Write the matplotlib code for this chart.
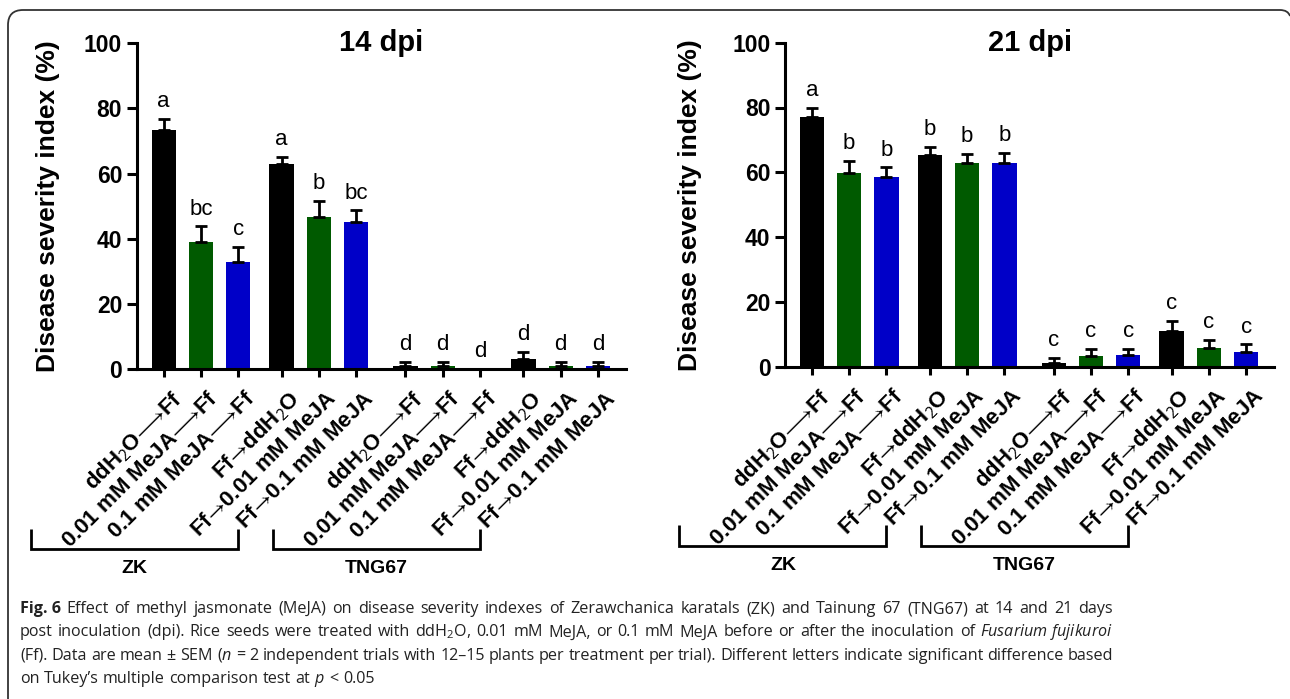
import re
import matplotlib
matplotlib.use("Agg")
import matplotlib.pyplot as plt
import matplotlib.transforms as mtransforms
from matplotlib.path import Path
from matplotlib.patches import PathPatch
import numpy as np

plt.rcParams.update({
    "font.family": ["Liberation Sans", "DejaVu Sans"],
    "mathtext.fontset": "custom",
    "mathtext.rm": "Open Sans",
    "mathtext.it": "Open Sans:italic",
    "mathtext.bf": "Open Sans:bold",
})

# ---------------- data
treatments = ["ddH$_2$O$⟶$Ff", "0.01 mM MeJA$⟶$Ff", "0.1 mM MeJA$⟶$Ff",
              "Ff$→$ddH$_2$O", "Ff$→$0.01 mM MeJA", "Ff$→$0.1 mM MeJA"]
cultivars = ["ZK", "TNG67"]
bar_colors = ["#000000", "#005a00", "#0000c8"]

dsi14 = [73.5, 39.0, 33.0, 62.8, 46.8, 45.0, 1.0, 0.8, 0.0, 3.0, 0.8, 0.8]
sem14 = [3.4, 4.8, 4.5, 2.3, 4.7, 3.7, 1.3, 1.4, 0.0, 2.2, 1.4, 1.4]
let14 = ["a", "bc", "c", "a", "b", "bc", "d", "d", "d", "d", "d", "d"]

dsi21 = [77.0, 59.7, 58.5, 65.3, 62.8, 62.9, 1.0, 3.3, 3.5, 11.0, 5.7, 4.5]
sem21 = [3.0, 3.7, 3.0, 2.5, 3.0, 3.0, 1.7, 2.1, 2.1, 3.1, 2.5, 2.4]
let21 = ["a", "b", "b", "b", "b", "b", "c", "c", "c", "c", "c", "c"]

caption_head = "Fig. 6"
caption = [
    r"Effect of methyl jasmonate (MeJA) on disease severity indexes of "
    r"Zerawchanica karatals (ZK) and Tainung 67 (TNG67) at 14 and 21 days",
    r"post inoculation (dpi). Rice seeds were treated with ddH$_2$O, 0.01 mM MeJA, or 0.1 mM "
    r"MeJA before or after the inoculation of $\mathit{Fusarium\ fujikuroi}$",
    r"(Ff). Data are mean $\pm$ SEM ($\mathit{n}$ = 2 independent trials with 12–15 plants per "
    r"treatment per trial). Different letters indicate significant difference based",
    r"on Tukey’s multiple comparison test at $\mathit{p}$ < 0.05",
]

# ---------------- layout
pos = []
for g in range(len(cultivars)):
    for h in range(2):
        for k in range(3):
            pos.append(g * 6.48 + h * 3.16 + k)
pos = np.array(pos)
labels = treatments * len(cultivars)
colors = bar_colors * 4

W, H = 1290, 699
fig = plt.figure(figsize=(W / 100, H / 100), dpi=100)
ax1 = fig.add_axes([136.8 / W, 1 - 369 / H, 489.2 / W, 325.7 / H])
ax2 = fig.add_axes([785.0 / W, 1 - 366.7 / H, 489.2 / W, 324.0 / H])


def panel(ax, vals, sems, letters, title, ylab_x):
    ax.bar(pos, vals, width=0.65, color=colors, zorder=2)
    for x, v, e, l in zip(pos, vals, sems, letters):
        if e > 0:
            ax.errorbar(x, v, yerr=[[0], [e]], fmt="none", ecolor="black",
                        elinewidth=2.0, capsize=4.3, capthick=2.0, zorder=3)
        ax.annotate(l, (x, v + e), xytext=(0, 8.5), textcoords="offset points",
                    ha="center", va="baseline", fontsize=16)
    ax.set_xlim(-0.72, 12.39)
    ax.set_ylim(0, 100)
    for s in ("top", "right"):
        ax.spines[s].set_visible(False)
    for s in ("left", "bottom"):
        ax.spines[s].set_linewidth(2.2)
    ax.set_yticks(np.arange(0, 101, 20))
    ax.tick_params(axis="y", length=7.5, width=2.2, labelsize=16.5, pad=3)
    ax.tick_params(axis="x", length=6, width=2.2, pad=7.5)
    for t in ax.get_yticklabels():
        t.set_fontweight("bold")
    ax.set_xticks(pos)
    ax.set_xticklabels(labels, rotation=45, ha="right", va="top",
                       rotation_mode="anchor", fontsize=16, fontweight="bold")
    off = mtransforms.ScaledTranslation(5 / 72, 0, fig.dpi_scale_trans)
    for t in ax.get_xticklabels():
        t.set_transform(t.get_transform() + off)
    ax.set_ylabel("Disease severity index (%)", fontsize=19, fontweight="bold")
    ax.yaxis.set_label_coords(ylab_x, 0.5)
    ax.text(0.5, 1.0, title, transform=ax.transAxes, ha="center", va="center",
            fontsize=21, fontweight="bold")

    # cultivar brackets under the rotated labels
    tr = mtransforms.blended_transform_factory(ax.transData, ax.transAxes)
    for g, name in enumerate(cultivars):
        right = pos[g * 6 + 2]
        left = right - 5.55
        ax.plot([left, left, right, right], [-0.49, -0.552, -0.552, -0.49],
                transform=tr, color="black", lw=2.0, clip_on=False,
                solid_capstyle="butt", solid_joinstyle="miter")
        ax.text((left + right) / 2, -0.613, name, transform=tr, ha="center",
                va="center", fontsize=14, fontweight="bold")


panel(ax1, dsi14, sem14, let14, "14 dpi", -0.158)
panel(ax2, dsi21, sem21, let21, "21 dpi", -0.170)

# ---------------- caption, justified like the journal layout
cap_size = 11.6
x_left, x_right = 20, 1113
renderer = fig.canvas.get_renderer()
head = fig.text(x_left / W, 1 - 613 / H, caption_head, fontsize=cap_size,
                family="Open Sans", fontweight="bold", va="baseline",
                color="#222222")
head_end = head.get_window_extent(renderer=renderer).x1 + 5
for i, line in enumerate(caption):
    y = 1 - (613 + 23.4 * i) / H
    start = head_end if i == 0 else x_left
    words = re.split(r"(?<!\\) ", line)
    texts = [fig.text(0, y, w, fontsize=cap_size, family="Open Sans",
                      va="baseline", color="#222222") for w in words]
    widths = [t.get_window_extent(renderer=renderer).width for t in texts]
    if i < len(caption) - 1:
        gap = (x_right - start - sum(widths)) / (len(words) - 1)
    else:
        gap = 0.27 * cap_size * 100 / 72
    x = start
    for t, w in zip(texts, widths):
        t.set_x(x / W)
        x += w + gap

# ---------------- rounded frame (top and left edges)
pts = [(8, H), (8, 25), (8, 10), (23, 10), (1280, 10), (1288, 10), (1290, 16)]
codes = [Path.MOVETO, Path.LINETO, Path.CURVE3, Path.CURVE3, Path.LINETO,
         Path.CURVE3, Path.CURVE3]
frame = Path([(x / W, 1 - y / H) for x, y in pts], codes)
fig.add_artist(PathPatch(frame, transform=fig.transFigure, fill=False,
                         lw=1.3, ec="#333333"))

fig.savefig("out.png", dpi=100)
